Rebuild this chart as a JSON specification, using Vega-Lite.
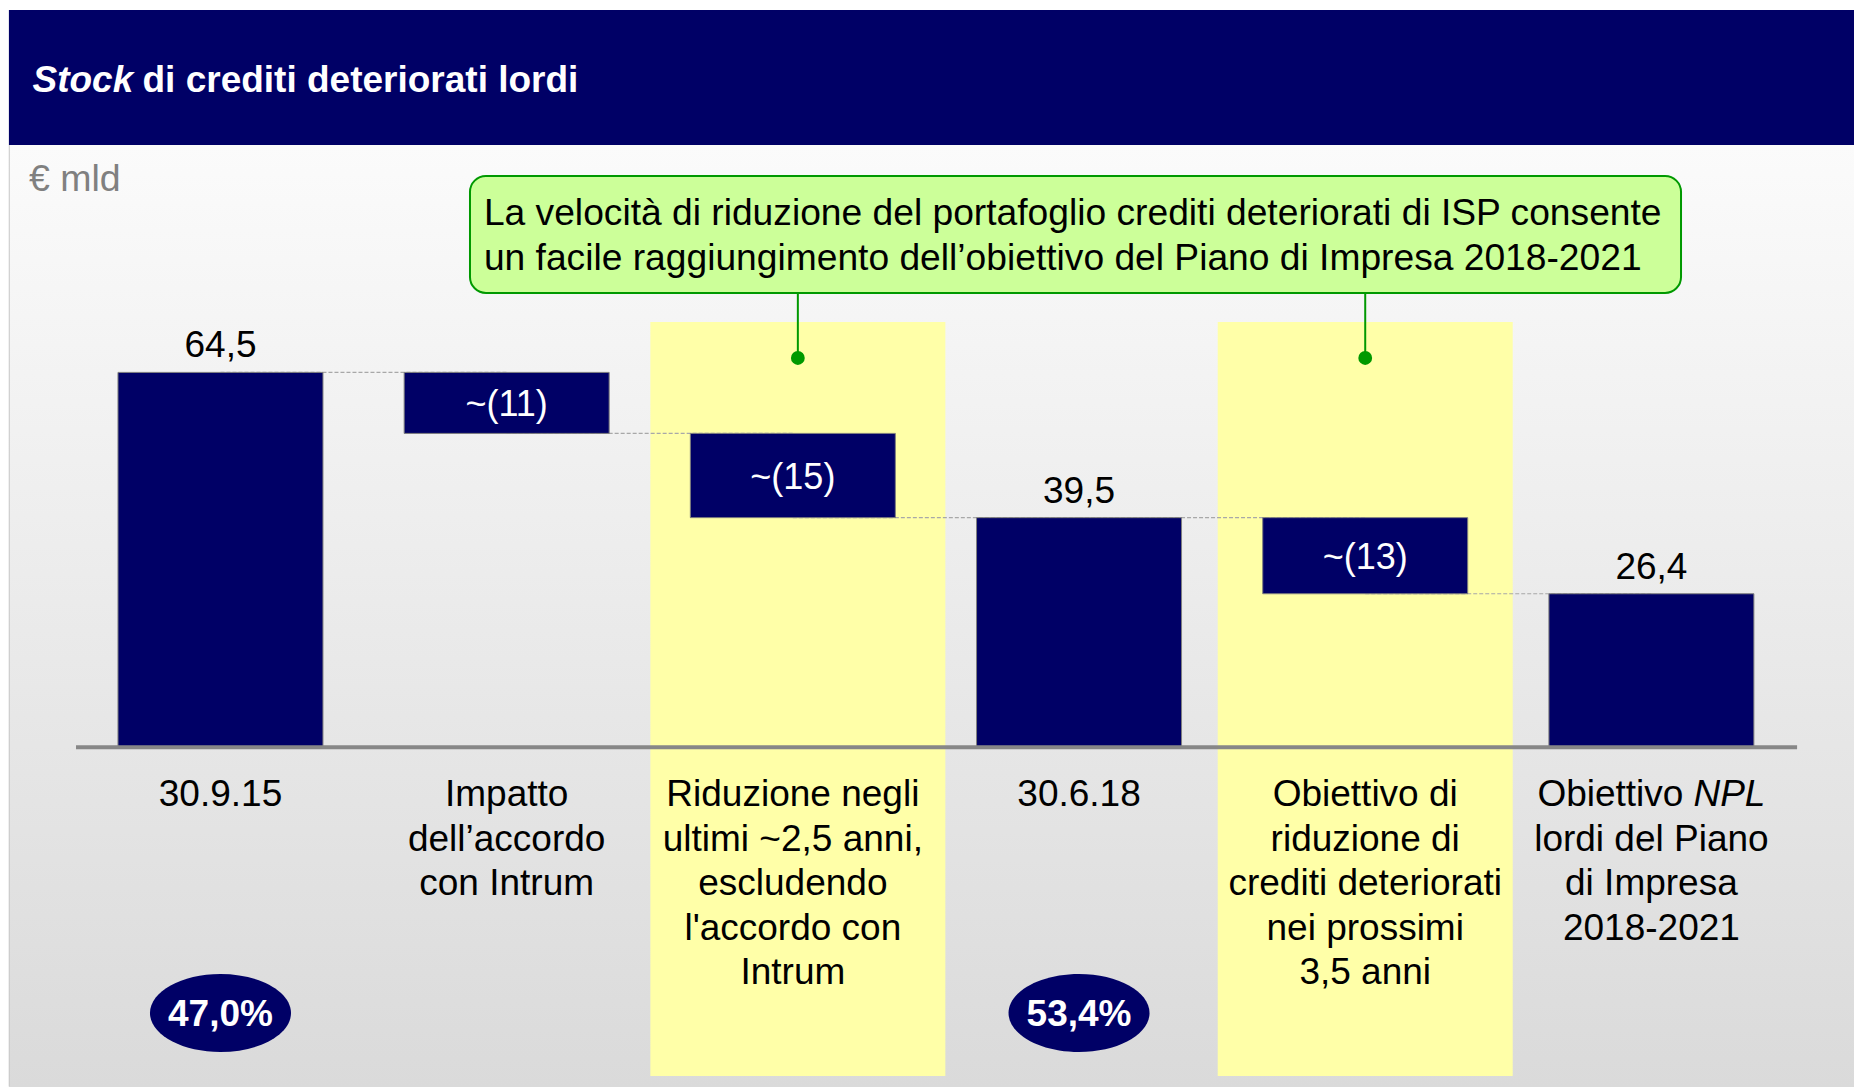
{
  "$schema": "https://vega.github.io/schema/vega-lite/v6.json",
  "width": 1854,
  "height": 1087,
  "padding": 0,
  "autosize": {"type": "fit", "contains": "padding"},
  "background": "#ffffff",
  "config": {"view": {"stroke": null}, "font": "Liberation Sans"},
  "datasets": {
    "bars": [
      {"cat": "30.9.15", "start": 0, "end": 64.5, "top": "64,5", "next": "Impatto dell’accordo con Intrum", "label": "30.9.15"},
      {"cat": "Impatto dell’accordo con Intrum", "start": 64.5, "end": 54.0, "inner": "~(11)", "next": "Riduzione negli ultimi ~2,5 anni", "label": "Impatto\ndell’accordo\ncon Intrum"},
      {"cat": "Riduzione negli ultimi ~2,5 anni", "start": 54.0, "end": 39.5, "inner": "~(15)", "next": "30.6.18", "label": "Riduzione negli\nultimi ~2,5 anni,\nescludendo\nl'accordo con\nIntrum"},
      {"cat": "30.6.18", "start": 0, "end": 39.5, "top": "39,5", "next": "Obiettivo di riduzione nei prossimi 3,5 anni", "label": "30.6.18"},
      {"cat": "Obiettivo di riduzione nei prossimi 3,5 anni", "start": 39.5, "end": 26.4, "inner": "~(13)", "next": "Obiettivo NPL 2018-2021", "label": "Obiettivo di\nriduzione di\ncrediti deteriorati\nnei prossimi\n3,5 anni"},
      {"cat": "Obiettivo NPL 2018-2021", "start": 0, "end": 26.4, "top": "26,4", "label": "\nlordi del Piano\ndi Impresa\n2018-2021", "l1": "Obiettivo", "l1b": "NPL"}
    ],
    "highlight": [
      {"cat": "Riduzione negli ultimi ~2,5 anni"},
      {"cat": "Obiettivo di riduzione nei prossimi 3,5 anni"}
    ],
    "coverage": [
      {"cat": "30.9.15", "pct": "47,0%"},
      {"cat": "30.6.18", "pct": "53,4%"}
    ]
  },
  "layer": [
    {
      "layer": [
        {
          "data": {"values": [{"part": "body"}]},
          "mark": {"type": "rect", "fill": {"gradient": "linear", "x1": 0, "y1": 0, "x2": 0, "y2": 1, "stops": [{"offset": 0, "color": "#fbfbfb"}, {"offset": 1, "color": "#dadada"}]}},
          "encoding": {
            "x": {"datum": 0.48, "type": "quantitative", "scale": {"domain": [0, 100], "nice": false, "zero": false}, "axis": null},
            "x2": {"datum": 100},
            "y": {"datum": 103.64, "type": "quantitative", "scale": {"domain": [-58.5, 128.6], "nice": false, "zero": false}, "axis": null},
            "y2": {"datum": -58.5}
          }
        },
        {
          "data": {"values": [{"part": "edge"}]},
          "mark": {"type": "rule", "stroke": "#c8c8c8", "strokeWidth": 1},
          "encoding": {
            "x": {"datum": 0.5, "type": "quantitative", "scale": {"domain": [0, 100], "nice": false, "zero": false}, "axis": null},
            "y": {"datum": 103.64, "type": "quantitative", "scale": {"domain": [-58.5, 128.6], "nice": false, "zero": false}, "axis": null},
            "y2": {"datum": -58.4}
          }
        },
        {
          "data": {"values": [{"part": "header"}]},
          "mark": {"type": "rect", "fill": "#000066"},
          "encoding": {
            "x": {"datum": 0.48, "type": "quantitative", "scale": {"domain": [0, 100], "nice": false, "zero": false}, "axis": null},
            "x2": {"datum": 100},
            "y": {"datum": 126.88, "type": "quantitative", "scale": {"domain": [-58.5, 128.6], "nice": false, "zero": false}, "axis": null},
            "y2": {"datum": 103.64}
          }
        },
        {
          "data": {"values": [{"t": "Stock"}]},
          "mark": {"type": "text", "align": "left", "baseline": "alphabetic", "fontSize": 37, "fontWeight": "bold", "fontStyle": "italic", "color": "#ffffff"},
          "encoding": {
            "x": {"datum": 1.753, "type": "quantitative", "scale": {"domain": [0, 100], "nice": false, "zero": false}, "axis": null},
            "y": {"datum": 112.76, "type": "quantitative", "scale": {"domain": [-58.5, 128.6], "nice": false, "zero": false}, "axis": null},
            "text": {"field": "t"}
          }
        },
        {
          "data": {"values": [{"t": "di crediti deteriorati lordi"}]},
          "mark": {"type": "text", "align": "left", "baseline": "alphabetic", "fontSize": 37, "fontWeight": "bold", "color": "#ffffff"},
          "encoding": {
            "x": {"datum": 7.686, "type": "quantitative", "scale": {"domain": [0, 100], "nice": false, "zero": false}, "axis": null},
            "y": {"datum": 112.76, "type": "quantitative", "scale": {"domain": [-58.5, 128.6], "nice": false, "zero": false}, "axis": null},
            "text": {"field": "t"}
          }
        },
        {
          "data": {"values": [{"t": "€ mld"}]},
          "mark": {"type": "text", "align": "left", "baseline": "alphabetic", "fontSize": 37.5, "color": "#808080"},
          "encoding": {
            "x": {"datum": 1.56, "type": "quantitative", "scale": {"domain": [0, 100], "nice": false, "zero": false}, "axis": null},
            "y": {"datum": 95.81, "type": "quantitative", "scale": {"domain": [-58.5, 128.6], "nice": false, "zero": false}, "axis": null},
            "text": {"field": "t"}
          }
        },
        {
          "data": {"values": [{"part": "callout"}]},
          "mark": {"type": "rect", "fill": "#ccff99", "stroke": "#009900", "strokeWidth": 2, "cornerRadius": 16},
          "encoding": {
            "x": {"datum": 25.35, "type": "quantitative", "scale": {"domain": [0, 100], "nice": false, "zero": false}, "axis": null},
            "x2": {"datum": 90.67},
            "y": {"datum": 98.31, "type": "quantitative", "scale": {"domain": [-58.5, 128.6], "nice": false, "zero": false}, "axis": null},
            "y2": {"datum": 78.17}
          }
        },
        {
          "data": {"values": [{"t": "La velocità di riduzione del portafoglio crediti deteriorati di ISP consente\nun facile raggiungimento dell’obiettivo del Piano di Impresa 2018-2021"}]},
          "mark": {"type": "text", "align": "left", "baseline": "alphabetic", "fontSize": 37.2, "lineHeight": 45, "lineBreak": "\n", "color": "#000000"},
          "encoding": {
            "x": {"datum": 26.1, "type": "quantitative", "scale": {"domain": [0, 100], "nice": false, "zero": false}, "axis": null},
            "y": {"datum": 89.87, "type": "quantitative", "scale": {"domain": [-58.5, 128.6], "nice": false, "zero": false}, "axis": null},
            "text": {"field": "t"}
          }
        }
      ]
    },
    {
      "encoding": {
        "x": {
          "field": "cat",
          "type": "nominal",
          "axis": null,
          "scale": {
            "domain": ["30.9.15", "Impatto dell’accordo con Intrum", "Riduzione negli ultimi ~2,5 anni", "30.6.18", "Obiettivo di riduzione nei prossimi 3,5 anni", "Obiettivo NPL 2018-2021"],
            "paddingInner": 0.2837,
            "paddingOuter": 0.381,
            "align": 0.541
          }
        }
      },
      "layer": [
        {
          "data": {"name": "highlight"},
          "mark": {"type": "bar", "fill": "#ffffa8", "width": {"band": 1.439}, "xOffset": {"expr": "datum.cat === 'Riduzione negli ultimi ~2,5 anni' ? 5 : 0"}},
          "encoding": {
            "y": {"datum": 73.18, "type": "quantitative", "scale": {"domain": [-58.5, 128.6], "nice": false, "zero": false}, "axis": null},
            "y2": {"datum": -56.61}
          }
        },
        {
          "data": {"name": "bars"},
          "transform": [{"filter": "isValid(datum.next)"}],
          "mark": {"type": "rule", "stroke": "#a8a8a8", "strokeWidth": 1.2, "strokeDash": [4, 2]},
          "encoding": {
            "x2": {"field": "next"},
            "y": {"field": "end", "type": "quantitative", "scale": {"domain": [-58.5, 128.6], "nice": false, "zero": false}, "axis": null}
          }
        },
        {
          "data": {"name": "bars"},
          "mark": {"type": "bar", "fill": "#000066", "stroke": "#7f7f7f", "strokeWidth": 1},
          "encoding": {
            "y": {"field": "start", "type": "quantitative", "scale": {"domain": [-58.5, 128.6], "nice": false, "zero": false}, "axis": null},
            "y2": {"field": "end"}
          }
        },
        {
          "data": {"name": "bars"},
          "transform": [{"filter": "isValid(datum.top)"}],
          "mark": {"type": "text", "align": "center", "baseline": "alphabetic", "fontSize": 37, "dy": -15, "color": "#000000"},
          "encoding": {
            "y": {"field": "end", "type": "quantitative", "scale": {"domain": [-58.5, 128.6], "nice": false, "zero": false}, "axis": null},
            "text": {"field": "top"}
          }
        },
        {
          "data": {"name": "bars"},
          "transform": [
            {"filter": "isValid(datum.inner)"},
            {"fold": ["start", "end"], "as": ["edge", "level"]}
          ],
          "mark": {"type": "text", "align": "center", "baseline": "middle", "fontSize": 36, "dy": 2, "color": "#ffffff"},
          "encoding": {
            "y": {"aggregate": "mean", "field": "level", "type": "quantitative", "scale": {"domain": [-58.5, 128.6], "nice": false, "zero": false}, "axis": null},
            "text": {"field": "inner", "type": "nominal"}
          }
        },
        {
          "data": {"name": "bars"},
          "mark": {"type": "text", "align": "center", "baseline": "alphabetic", "fontSize": 37, "lineHeight": 44.5, "lineBreak": "\n", "dy": 59, "color": "#000000"},
          "encoding": {
            "y": {"datum": 0, "type": "quantitative", "scale": {"domain": [-58.5, 128.6], "nice": false, "zero": false}, "axis": null},
            "text": {"field": "label"}
          }
        },
        {
          "data": {"name": "bars"},
          "transform": [{"filter": "isValid(datum.l1)"}],
          "mark": {"type": "text", "align": "right", "baseline": "alphabetic", "fontSize": 37, "dy": 59, "dx": 32, "color": "#000000"},
          "encoding": {
            "y": {"datum": 0, "type": "quantitative", "scale": {"domain": [-58.5, 128.6], "nice": false, "zero": false}, "axis": null},
            "text": {"field": "l1"}
          }
        },
        {
          "data": {"name": "bars"},
          "transform": [{"filter": "isValid(datum.l1b)"}],
          "mark": {"type": "text", "align": "left", "baseline": "alphabetic", "fontSize": 37, "fontStyle": "italic", "dy": 59, "dx": 42, "color": "#000000"},
          "encoding": {
            "y": {"datum": 0, "type": "quantitative", "scale": {"domain": [-58.5, 128.6], "nice": false, "zero": false}, "axis": null},
            "text": {"field": "l1b"}
          }
        },
        {
          "data": {"name": "coverage"},
          "mark": {"type": "point", "shape": "M-1,0C-1,-0.305,-0.552,-0.553,0,-0.553C0.552,-0.553,1,-0.305,1,0C1,0.305,0.552,0.553,0,0.553C-0.552,0.553,-1,0.305,-1,0Z", "size": 19881, "filled": true, "fill": "#000066", "opacity": 1, "strokeWidth": 0},
          "encoding": {
            "y": {"datum": -45.76, "type": "quantitative", "scale": {"domain": [-58.5, 128.6], "nice": false, "zero": false}, "axis": null}
          }
        },
        {
          "data": {"name": "coverage"},
          "mark": {"type": "text", "align": "center", "baseline": "middle", "fontSize": 37, "fontWeight": "bold", "dy": 2, "color": "#ffffff"},
          "encoding": {
            "y": {"datum": -45.76, "type": "quantitative", "scale": {"domain": [-58.5, 128.6], "nice": false, "zero": false}, "axis": null},
            "text": {"field": "pct"}
          }
        },
        {
          "data": {"name": "highlight"},
          "mark": {"type": "rule", "stroke": "#009900", "strokeWidth": 2, "xOffset": {"expr": "datum.cat === 'Riduzione negli ultimi ~2,5 anni' ? 5 : 0"}},
          "encoding": {
            "y": {"datum": 78.17, "type": "quantitative", "scale": {"domain": [-58.5, 128.6], "nice": false, "zero": false}, "axis": null},
            "y2": {"datum": 67.5}
          }
        },
        {
          "data": {"name": "highlight"},
          "mark": {"type": "point", "shape": "circle", "size": 190, "filled": true, "fill": "#009900", "opacity": 1, "strokeWidth": 0, "xOffset": {"expr": "datum.cat === 'Riduzione negli ultimi ~2,5 anni' ? 5 : 0"}},
          "encoding": {
            "y": {"datum": 66.98, "type": "quantitative", "scale": {"domain": [-58.5, 128.6], "nice": false, "zero": false}, "axis": null}
          }
        }
      ]
    },
    {
      "data": {"values": [{"part": "baseline"}]},
      "mark": {"type": "rule", "stroke": "#878787", "strokeWidth": 4},
      "encoding": {
        "x": {"datum": 4.1, "type": "quantitative", "scale": {"domain": [0, 100], "nice": false, "zero": false}, "axis": null},
        "x2": {"datum": 96.93},
        "y": {"datum": 0, "type": "quantitative", "scale": {"domain": [-58.5, 128.6], "nice": false, "zero": false}, "axis": null}
      }
    }
  ],
  "resolve": {"scale": {"x": "independent"}}
}
